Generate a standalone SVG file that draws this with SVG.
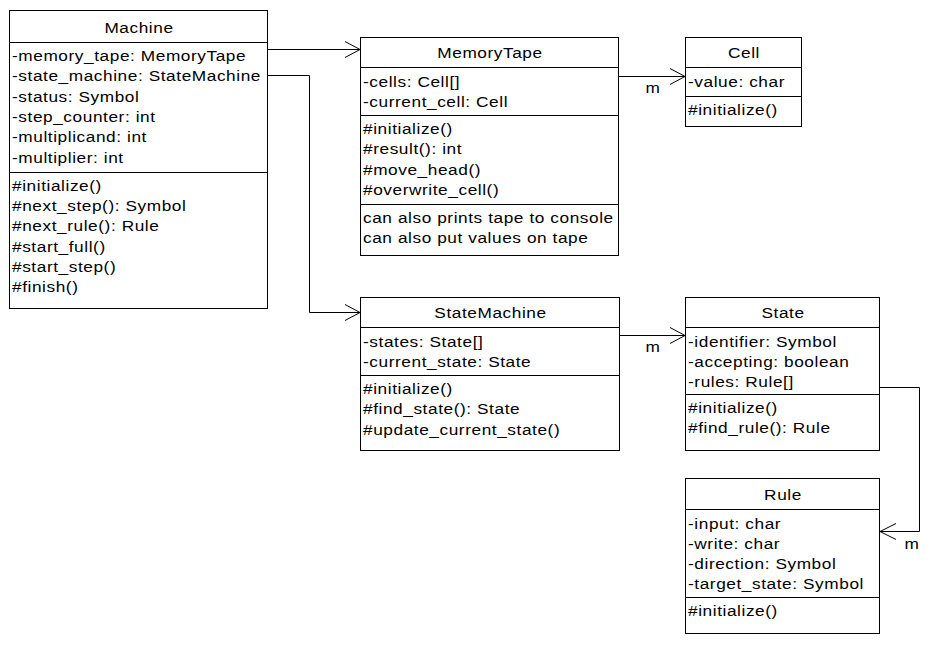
<svg xmlns="http://www.w3.org/2000/svg" width="938" height="649" viewBox="0 0 938 649">
<style>
  .box { fill: #ffffff; stroke: #000000; stroke-width: 1; }
  .div { stroke: #000000; stroke-width: 1; fill: none; }
  .con { stroke: #000000; stroke-width: 1; fill: none; }
  text { font-family: "Liberation Sans", Arial, sans-serif; font-size: 15px; fill: #000000; letter-spacing: 0.5px; }
  .title { text-anchor: middle; }
</style>
<rect width="938" height="649" fill="#ffffff"/>

<g id="connectors">
  <polyline class="con" points="268,49.5 360,49.5"/>
  <polyline class="con" points="345,41.5 360,49.5 345,57.5"/>
  <polyline class="con" points="268,75.5 309.5,75.5 309.5,312.5 360,312.5"/>
  <polyline class="con" points="345,304.5 360,312.5 345,320.5"/>
  <polyline class="con" points="619,76.5 685,76.5"/>
  <polyline class="con" points="670,68.5 685,76.5 670,84.5"/>
  <text transform="translate(653,93) scale(1.15,1)" class="title">m</text>
  <polyline class="con" points="620,335.5 685,335.5"/>
  <polyline class="con" points="670,327.5 685,335.5 670,343.5"/>
  <text transform="translate(653,352) scale(1.15,1)" class="title">m</text>
  <polyline class="con" points="880,387.5 919.5,387.5 919.5,531.5 880,531.5"/>
  <polyline class="con" points="896,523.5 880,531.5 896,539.5"/>
  <text transform="translate(912,548.5) scale(1.15,1)" class="title">m</text>
</g>

<g id="Machine">
  <rect class="box" x="9.5" y="10.5" width="258" height="298"/>
  <line class="div" x1="9.5" y1="42.5" x2="267.5" y2="42.5"/>
  <line class="div" x1="9.5" y1="172.5" x2="267.5" y2="172.5"/>
  <text class="title" transform="translate(139,33.3) scale(1.15,1)">Machine</text>
  <text transform="translate(12,61) scale(1.15,1)">-memory_tape: MemoryTape</text>
  <text transform="translate(12,81.3) scale(1.15,1)">-state_machine: StateMachine</text>
  <text transform="translate(12,101.6) scale(1.15,1)">-status: Symbol</text>
  <text transform="translate(12,122) scale(1.15,1)">-step_counter: int</text>
  <text transform="translate(12,142.3) scale(1.15,1)">-multiplicand: int</text>
  <text transform="translate(12,162.6) scale(1.15,1)">-multiplier: int</text>
  <text transform="translate(12,190.7) scale(1.15,1)">#initialize()</text>
  <text transform="translate(12,211) scale(1.15,1)">#next_step(): Symbol</text>
  <text transform="translate(12,231.3) scale(1.15,1)">#next_rule(): Rule</text>
  <text transform="translate(12,251.6) scale(1.15,1)">#start_full()</text>
  <text transform="translate(12,272) scale(1.15,1)">#start_step()</text>
  <text transform="translate(12,292.3) scale(1.15,1)">#finish()</text>
</g>

<g id="MemoryTape">
  <rect class="box" x="360.5" y="37.5" width="258" height="218"/>
  <line class="div" x1="360.5" y1="67.5" x2="618.5" y2="67.5"/>
  <line class="div" x1="360.5" y1="115.5" x2="618.5" y2="115.5"/>
  <line class="div" x1="360.5" y1="204.5" x2="618.5" y2="204.5"/>
  <text class="title" transform="translate(490,58.3) scale(1.15,1)">MemoryTape</text>
  <text transform="translate(363,86.7) scale(1.15,1)">-cells: Cell[]</text>
  <text transform="translate(363,107) scale(1.15,1)">-current_cell: Cell</text>
  <text transform="translate(363,134) scale(1.15,1)">#initialize()</text>
  <text transform="translate(363,154.3) scale(1.15,1)">#result(): int</text>
  <text transform="translate(363,174.6) scale(1.15,1)">#move_head()</text>
  <text transform="translate(363,195) scale(1.15,1)">#overwrite_cell()</text>
  <text transform="translate(363,223) scale(1.15,1)">can also prints tape to console</text>
  <text transform="translate(363,243.3) scale(1.15,1)">can also put values on tape</text>
</g>

<g id="Cell">
  <rect class="box" x="685.5" y="37.5" width="116" height="89"/>
  <line class="div" x1="685.5" y1="67.5" x2="801.5" y2="67.5"/>
  <line class="div" x1="685.5" y1="96.5" x2="801.5" y2="96.5"/>
  <text class="title" transform="translate(744,58.3) scale(1.15,1)">Cell</text>
  <text transform="translate(688,86.7) scale(1.15,1)">-value: char</text>
  <text transform="translate(688,115) scale(1.15,1)">#initialize()</text>
</g>

<g id="StateMachine">
  <rect class="box" x="360.5" y="297.5" width="259" height="153"/>
  <line class="div" x1="360.5" y1="327.5" x2="619.5" y2="327.5"/>
  <line class="div" x1="360.5" y1="375.5" x2="619.5" y2="375.5"/>
  <text class="title" transform="translate(490.5,318.3) scale(1.15,1)">StateMachine</text>
  <text transform="translate(363,346.7) scale(1.15,1)">-states: State[]</text>
  <text transform="translate(363,367) scale(1.15,1)">-current_state: State</text>
  <text transform="translate(363,394) scale(1.15,1)">#initialize()</text>
  <text transform="translate(363,414.3) scale(1.15,1)">#find_state(): State</text>
  <text transform="translate(363,434.6) scale(1.15,1)">#update_current_state()</text>
</g>

<g id="State">
  <rect class="box" x="685.5" y="297.5" width="194" height="153"/>
  <line class="div" x1="685.5" y1="327.5" x2="879.5" y2="327.5"/>
  <line class="div" x1="685.5" y1="394.5" x2="879.5" y2="394.5"/>
  <text class="title" transform="translate(783,318.3) scale(1.15,1)">State</text>
  <text transform="translate(688,346.7) scale(1.15,1)">-identifier: Symbol</text>
  <text transform="translate(688,367) scale(1.15,1)">-accepting: boolean</text>
  <text transform="translate(688,387.3) scale(1.15,1)">-rules: Rule[]</text>
  <text transform="translate(688,413) scale(1.15,1)">#initialize()</text>
  <text transform="translate(688,433.3) scale(1.15,1)">#find_rule(): Rule</text>
</g>

<g id="Rule">
  <rect class="box" x="685.5" y="478.5" width="194" height="155"/>
  <line class="div" x1="685.5" y1="509.5" x2="879.5" y2="509.5"/>
  <line class="div" x1="685.5" y1="597.5" x2="879.5" y2="597.5"/>
  <text class="title" transform="translate(783,500.3) scale(1.15,1)">Rule</text>
  <text transform="translate(688,528.5) scale(1.15,1)">-input: char</text>
  <text transform="translate(688,548.8) scale(1.15,1)">-write: char</text>
  <text transform="translate(688,569) scale(1.15,1)">-direction: Symbol</text>
  <text transform="translate(688,589.3) scale(1.15,1)">-target_state: Symbol</text>
  <text transform="translate(688,616) scale(1.15,1)">#initialize()</text>
</g>
</svg>
